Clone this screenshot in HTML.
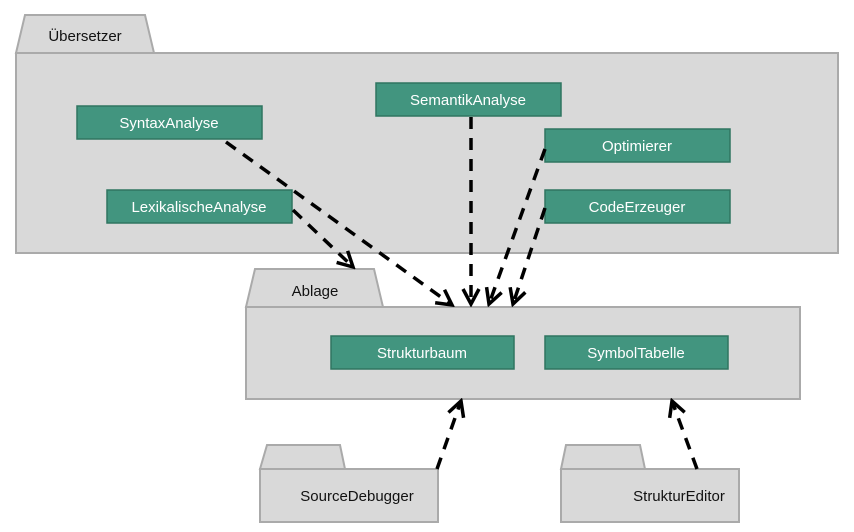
<!DOCTYPE html>
<html><head><meta charset="utf-8"><style>
html,body{margin:0;padding:0;background:#fff;}
svg{display:block;font-family:"Liberation Sans",Arial,sans-serif;}
</style></head><body>
<svg width="854" height="532" viewBox="0 0 854 532" xmlns="http://www.w3.org/2000/svg">
<defs>
<marker id="a" markerWidth="20" markerHeight="20" refX="17" refY="10" orient="auto" markerUnits="userSpaceOnUse">
<path d="M2,2 L17,10 L2,18" fill="none" stroke="#000" stroke-width="3.5"/>
</marker>
</defs>
<g fill="#d9d9d9" stroke="#aaa" stroke-width="2">
<polygon points="16,53 25,15 145,15 154,53"/>
<rect x="16" y="53" width="822" height="200"/>
<polygon points="246,307 255,269 374,269 383,307"/>
<rect x="246" y="307" width="554" height="92"/>
<polygon points="260,469 267,445 340,445 345,469"/>
<rect x="260" y="469" width="178" height="53"/>
<polygon points="561,469 566,445 640,445 645,469"/>
<rect x="561" y="469" width="178" height="53"/>
</g>
<g font-size="15" fill="#111">
<text x="85" y="41" text-anchor="middle">Übersetzer</text>
<text x="315" y="296" text-anchor="middle">Ablage</text>
<text x="357" y="501" text-anchor="middle">SourceDebugger</text>
<text x="679" y="501" text-anchor="middle">StrukturEditor</text>
</g>
<g fill="#42957f" stroke="#2f7561" stroke-width="1.5">
<rect x="77" y="106" width="185" height="33"/>
<rect x="107" y="190" width="185" height="33"/>
<rect x="376" y="83" width="185" height="33"/>
<rect x="545" y="129" width="185" height="33"/>
<rect x="545" y="190" width="185" height="33"/>
<rect x="331" y="336" width="183" height="33"/>
<rect x="545" y="336" width="183" height="33"/>
</g>
<g font-size="15" fill="#fff" text-anchor="middle">
<text x="169" y="128">SyntaxAnalyse</text>
<text x="199" y="212">LexikalischeAnalyse</text>
<text x="468" y="105">SemantikAnalyse</text>
<text x="637" y="151">Optimierer</text>
<text x="637" y="212">CodeErzeuger</text>
<text x="422" y="358">Strukturbaum</text>
<text x="636" y="358">SymbolTabelle</text>
</g>
<g stroke="#000" stroke-width="3.5" stroke-dasharray="12,9" fill="none" marker-end="url(#a)">
<line x1="226" y1="142" x2="452" y2="305"/>
<line x1="293" y1="210" x2="353" y2="267"/>
<line x1="471" y1="117" x2="471" y2="304"/>
<line x1="545" y1="149" x2="489" y2="304"/>
<line x1="545" y1="208" x2="513" y2="304"/>
<line x1="437" y1="469" x2="461" y2="401"/>
<line x1="697" y1="469" x2="672" y2="401"/>
</g>
</svg>
</body></html>
